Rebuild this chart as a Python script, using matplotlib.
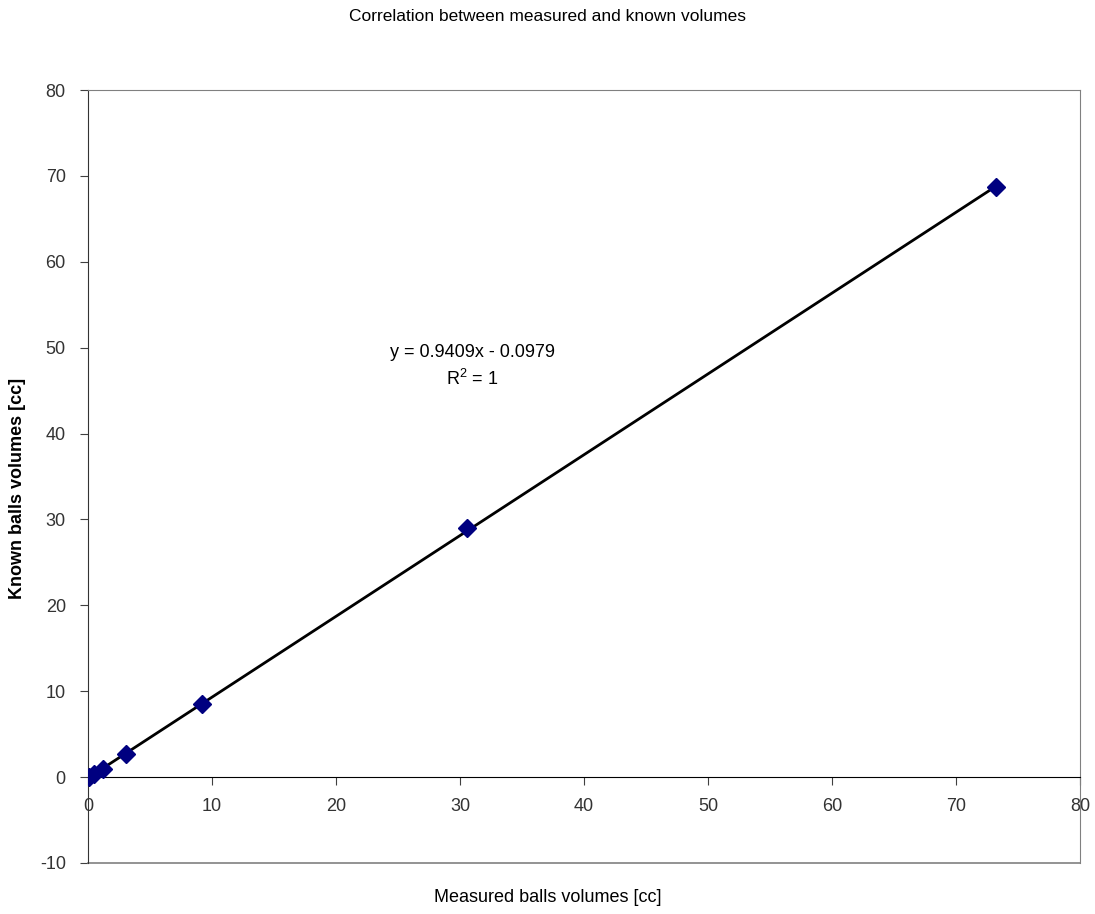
import numpy as np
import matplotlib.pyplot as plt

# data
measured = [0.1, 0.5, 1.2, 3.1, 9.2, 30.6, 73.2]
known = [0.0, 0.4, 1.0, 2.7, 8.5, 29.0, 68.7]
slope, intercept = 0.9409, -0.0979
x_ticks = [0, 10, 20, 30, 40, 50, 60, 70, 80]
y_ticks = [-10, 0, 10, 20, 30, 40, 50, 60, 70, 80]

plt.rcParams['font.family'] = ['Liberation Sans', 'DejaVu Sans']
plt.rcParams['axes.unicode_minus'] = False

fig = plt.figure(figsize=(10.95, 9.14), dpi=100)
ax = fig.add_axes([0.0804, 0.0558, 0.9059, 0.8457])

# trendline
xs = np.array([min(measured), max(measured)])
ax.plot(xs, slope * xs + intercept, color='black', lw=2, zorder=2)
ax.plot(measured, known, linestyle='none', marker='D', color='#000080',
        markersize=9, zorder=3)

ax.set_xlim(0, 80)
ax.set_ylim(-10, 80)
ax.set_xticks(x_ticks)
ax.set_yticks(y_ticks)
ax.spines['bottom'].set_position(('data', 0))
ax.plot([0, 1], [0, 0], transform=ax.transAxes, color='#808080', lw=1.2, clip_on=False)
for s in ['top', 'right']:
    ax.spines[s].set_color('#808080')
ax.spines['left'].set_color('#333333')
ax.spines['bottom'].set_color('black')
ax.tick_params(axis='both', direction='out', length=6, labelsize=13,
               colors='#404040', labelcolor='#333333')
ax.tick_params(axis='x', pad=9)
ax.tick_params(axis='y', pad=10)

ax.text(31, 47.8, 'y = 0.9409x - 0.0979\n$\\mathregular{R^2}$ = 1', ha='center', va='center',
        fontsize=13, linespacing=1.5)

fig.text(0.5, 0.982, 'Correlation between measured and known volumes', ha='center',
         va='center', fontsize=12.5)
fig.text(0.5, 0.018, 'Measured balls volumes [cc]', ha='center', va='center', fontsize=13)
fig.text(0.016, 0.466, 'Known balls volumes [cc]', ha='center', va='center', rotation=90,
         fontsize=13, fontweight='bold')

fig.savefig('out.png', dpi=100)
